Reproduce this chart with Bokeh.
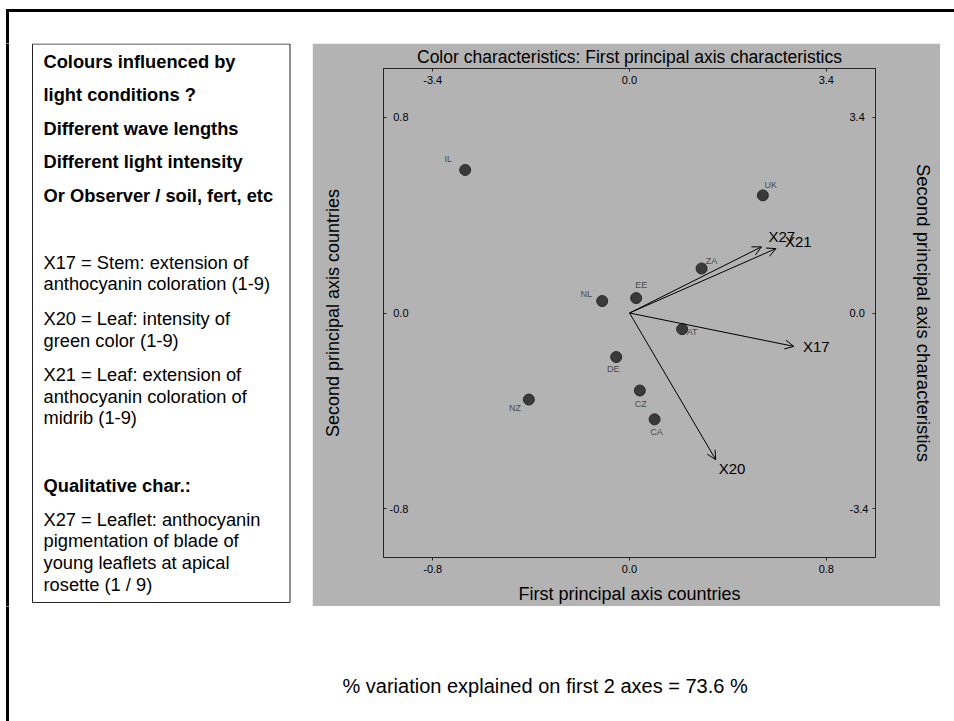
from bokeh.plotting import figure
from bokeh.models import (Range1d, LinearAxis, FixedTicker, PrintfTickFormatter,
                          ColumnDataSource, Arrow, OpenHead)
from bokeh.layouts import column, row
from bokeh.core.properties import value
from bokeh.embed import file_html
from bokeh.resources import INLINE

# ---------------- data ----------------
countries = ["IL", "UK", "ZA", "EE", "NL", "AT", "DE", "CZ", "CA", "NZ"]
pc1_countries = [-0.668, 0.542, 0.293, 0.027, -0.111, 0.214, -0.054, 0.042, 0.102, -0.409]
pc2_countries = [0.585, 0.481, 0.182, 0.061, 0.049, -0.066, -0.180, -0.317, -0.435, -0.354]

characteristics = ["X27", "X21", "X17", "X20"]
pc1_characteristics = [2.28, 2.53, 2.84, 1.49]
pc2_characteristics = [1.15, 1.12, -0.58, -2.55]

country_ticks = [-0.8, 0.0, 0.8]
characteristic_ticks = [-3.4, 0.0, 3.4]
variation_explained = 73.6

# label placement (screen pixels, y downwards)
country_label_dx = [-17, 8, 10, 5, -16, 10, -3, 1, 2, -14]
country_label_dy = [-11, -10, -8, -13, -7, 3, 12, 13, 13, 8]
char_label_dx = [7, 9, 9, 3]
char_label_dy = [-10, -7, 0, 9]

FONT = "Liberation Sans"
GRAY = "#b3b3b3"


def no_align(fig):
    if "frame_align" in fig.properties():
        fig.frame_align = False
    return fig


def canvas(w, h):
    c = figure(width=w, height=h, x_range=Range1d(0, w), y_range=Range1d(h, 0),
               output_backend="svg", toolbar_location=None,
               x_axis_type=None, y_axis_type=None, min_border=0,
               outline_line_color=None, background_fill_color="white",
               border_fill_color="white")
    return no_align(c)


PCA_H = 563
TOP_H = 43
BOT_H = 721 - TOP_H - PCA_H

# ---------------- top strip ----------------
top = canvas(954, TOP_H)
top.segment(x0=[5.5, 7], y0=[10, 10], x1=[960, 7], y1=[10, TOP_H + 5], line_color="black", line_width=3)

# ---------------- left text box ----------------
left = canvas(312, PCA_H)
left.segment(x0=[7], y0=[-5], x1=[7], y1=[PCA_H + 5], line_color="black", line_width=3)
left.quad(left=[32], right=[289.5], top=[0.5], bottom=[559], fill_color="white",
          line_color="#222222", line_width=1)

box_lines = [
    ("Colours influenced by", "bold", 18),
    ("light conditions ?", "bold", 51),
    ("Different wave lengths", "bold", 85),
    ("Different light intensity", "bold", 118),
    ("Or Observer / soil, fert, etc", "bold", 152),
    ("X17 = Stem: extension of", "normal", 219),
    ("anthocyanin coloration (1-9)", "normal", 240),
    ("X20 = Leaf: intensity of", "normal", 275),
    ("green color (1-9)", "normal", 297),
    ("X21 = Leaf: extension of", "normal", 331),
    ("anthocyanin coloration of", "normal", 352.5),
    ("midrib (1-9)", "normal", 374),
    ("Qualitative char.:", "bold", 442),
    ("X27 = Leaflet: anthocyanin", "normal", 475.5),
    ("pigmentation of blade of", "normal", 497),
    ("young leaflets at apical", "normal", 518.5),
    ("rosette (1 / 9)", "normal", 540.5),
]
for style in ("bold", "normal"):
    rows = [b for b in box_lines if b[1] == style]
    left.text(x=[43] * len(rows), y=[r[2] for r in rows], text=[r[0] for r in rows],
              text_font=value(FONT), text_font_size="18.3px", text_font_style=style,
              text_color="black", text_align="left", text_baseline="middle")

# ---------------- PCA biplot ----------------
p = figure(width=628, height=PCA_H, x_range=Range1d(-1, 1), y_range=Range1d(-1, 1),
           output_backend="svg", toolbar_location=None,
           x_axis_type=None, y_axis_type=None,
           min_border_left=71, min_border_right=65, min_border_top=24,
           min_border_bottom=PCA_H - 24 - 492,
           background_fill_color=GRAY, border_fill_color=GRAY,
           outline_line_color="#262626", outline_line_width=1)
no_align(p)
p.extra_x_ranges = {"cx": Range1d(-4.25, 4.25)}
p.extra_y_ranges = {"cy": Range1d(-4.25, 4.25)}
p.xgrid.visible = False
p.ygrid.visible = False


def style_axis(ax, label, tick_in, tick_out, standoff, label_standoff, label_size):
    ax.axis_label = label
    ax.formatter = PrintfTickFormatter(format="%.1f")
    ax.axis_line_color = "#262626"
    ax.major_tick_line_color = "#262626"
    ax.minor_tick_line_color = None
    ax.major_tick_in = tick_in
    ax.major_tick_out = tick_out
    ax.major_label_standoff = standoff
    ax.axis_label_standoff = label_standoff
    ax.major_label_text_font = FONT
    ax.major_label_text_font_size = "11px"
    ax.major_label_text_color = "black"
    ax.axis_label_text_font = FONT
    ax.axis_label_text_font_size = label_size
    ax.axis_label_text_font_style = "normal"
    ax.axis_label_text_color = "black"


bottom_ax = LinearAxis(ticker=FixedTicker(ticks=country_ticks))
style_axis(bottom_ax, "First principal axis countries", 0, 3, 4, 8, "18px")
p.add_layout(bottom_ax, "below")

left_ax = LinearAxis(ticker=FixedTicker(ticks=country_ticks))
style_axis(left_ax, "Second principal axis countries", 3, 0, -25, 44, "18px")
p.add_layout(left_ax, "left")

top_ax = LinearAxis(ticker=FixedTicker(ticks=characteristic_ticks), x_range_name="cx")
style_axis(top_ax, "Color characteristics: First principal axis characteristics", 3, 0, -15, 6, "17.5px")
p.add_layout(top_ax, "above")

right_ax = LinearAxis(ticker=FixedTicker(ticks=characteristic_ticks), y_range_name="cy")
style_axis(right_ax, "Second principal axis characteristics", 3, 0, -26, 42, "18.5px")
p.add_layout(right_ax, "right")

arrow_src = ColumnDataSource(dict(
    x0=[0] * len(characteristics), y0=[0] * len(characteristics),
    x1=pc1_characteristics, y1=pc2_characteristics))
p.add_layout(Arrow(end=OpenHead(size=9, line_width=1, line_color="black"),
                   x_start="x0", y_start="y0", x_end="x1", y_end="y1",
                   source=arrow_src, line_color="black", line_width=1,
                   x_range_name="cx", y_range_name="cy"))

p.text(x=pc1_characteristics, y=pc2_characteristics, text=characteristics,
       x_offset=char_label_dx, y_offset=char_label_dy,
       x_range_name="cx", y_range_name="cy",
       text_font=value(FONT), text_font_size="15px", text_color="black",
       text_align="left", text_baseline="middle")

p.scatter(x=pc1_countries, y=pc2_countries, size=11, fill_color="#3a3a3a",
          line_color="#2a2a2a", line_width=1)
p.text(x=pc1_countries, y=pc2_countries, text=countries,
       x_offset=country_label_dx, y_offset=country_label_dy,
       text_font=value(FONT), text_font_size="9px", text_color="#4a4a4a",
       text_align="center", text_baseline="middle")

# ---------------- bottom strip ----------------
bottom = canvas(954, BOT_H)
bottom.segment(x0=[7], y0=[-5], x1=[7], y1=[BOT_H + 5], line_color="black", line_width=3)
bottom.text(x=[342], y=[685 - TOP_H - PCA_H], text=[f"% variation explained on first 2 axes = {variation_explained} %"],
            text_font=value(FONT), text_font_size="20px", text_color="black",
            text_align="left", text_baseline="middle")

layout = column(top, row(left, p), bottom)
open("out.html", "w").write(file_html(layout, INLINE))
